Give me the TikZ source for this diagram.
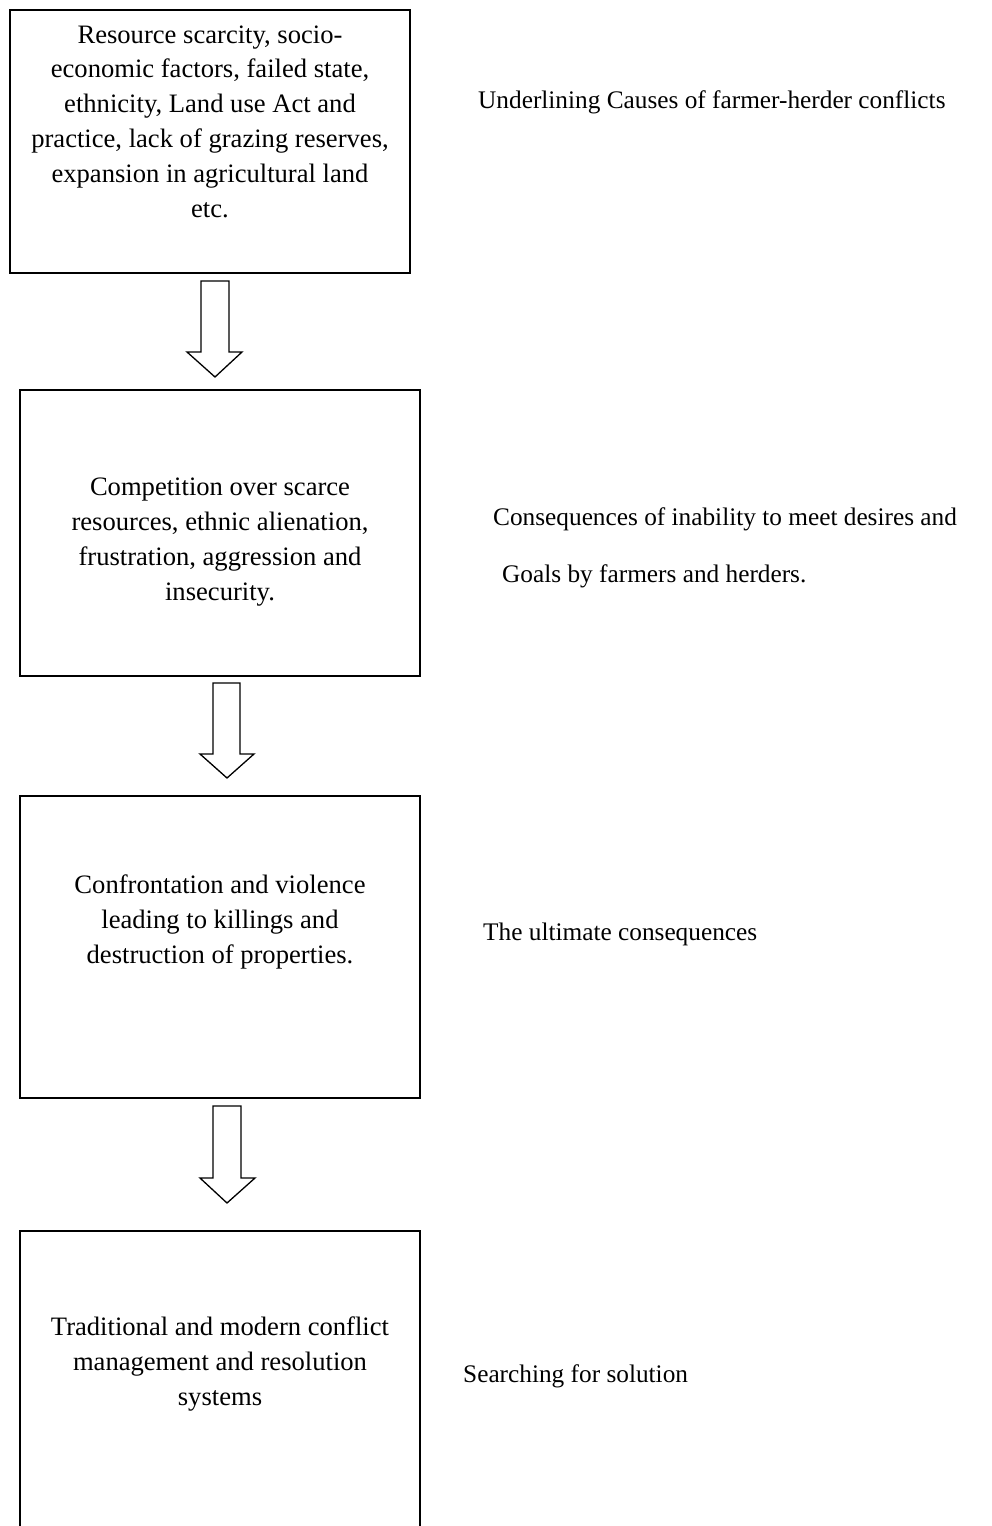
\documentclass[tikz,border=0pt]{standalone}
\usepackage{fontspec}
\setmainfont{Liberation Serif}
\begin{document}
\begin{tikzpicture}[x=1pt,y=-1pt,
  boxframe/.style={draw=black,line width=2.4pt,inner sep=0pt},
  boxtext/.style={align=center,inner sep=0pt,anchor=base,font=\fontsize{26.6}{34.8}\selectfont},
  sidetext/.style={align=left,inner sep=0pt,anchor=base west,font=\fontsize{25.3}{35}\selectfont},
  blockarrow/.style={draw=black,line width=1.3pt,line join=miter,fill=white}]
\clip (0,0) rectangle (991,1526);
\fill[white] (0,0) rectangle (991,1526);
% boxes
\draw[boxframe] (10,10) rectangle (410,273);
\draw[boxframe] (20,390) rectangle (420,676);
\draw[boxframe] (20,796) rectangle (420,1098);
\draw[boxframe] (20,1560) -- (20,1231) -- (420,1231) -- (420,1560);
% box texts (base anchor = baseline of last line)
\node[boxtext] (t1) at (210,217) {Resource scarcity, socio-\\economic factors, failed state,\\ethnicity, Land use Act and\\practice, lack of grazing reserves,\\expansion in agricultural land\\etc.};
\node[boxtext] (t2) at (220,600) {Competition over scarce\\resources, ethnic alienation,\\frustration, aggression and\\insecurity.};
\node[boxtext] (t3) at (220,963) {Confrontation and violence\\leading to killings and\\destruction of properties.};
\node[boxtext] (t4) at (220,1405) {Traditional and modern conflict\\management and resolution\\systems};
% side labels
\node[sidetext] (s1) at (478,108) {Underlining Causes of farmer-herder conflicts};
\node[sidetext,font=\fontsize{25.3}{57}\selectfont] (s2) at (493,582) {Consequences of inability to meet desires and\\\hspace*{9pt}Goals by farmers and herders.};
\node[sidetext] (s3) at (483,940) {The ultimate consequences};
\node[sidetext] (s4) at (463,1382) {Searching for solution};
% block arrows
\draw[blockarrow] (201,281) -- (229,281) -- (229,352) -- (242,352) -- (215,377) -- (187,352) -- (201,352) -- cycle;
\draw[blockarrow] (213,683) -- (240,683) -- (240,754) -- (254,754) -- (227,778) -- (200,754) -- (213,754) -- cycle;
\draw[blockarrow] (213,1106) -- (241,1106) -- (241,1178) -- (255,1178) -- (227,1203) -- (200,1178) -- (213,1178) -- cycle;
\end{tikzpicture}
\end{document}
